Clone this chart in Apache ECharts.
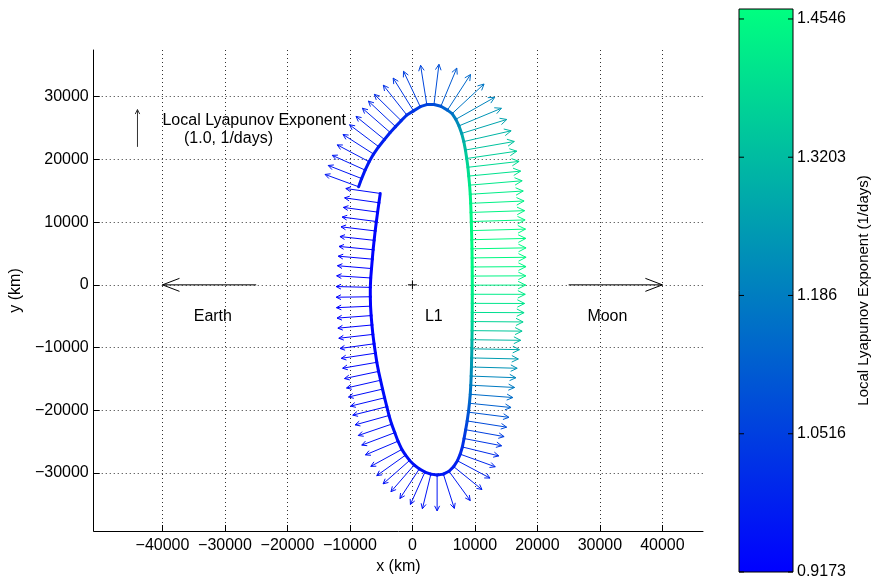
<!DOCTYPE html>
<html><head><meta charset="utf-8">
<script src="https://cdn.jsdelivr.net/npm/echarts@6/dist/echarts.min.js"></script>
<style>html,body{margin:0;padding:0;background:#fff}#c{width:874px;height:581px}</style>
</head><body><div id="c"></div>
<script>
// ---------- data ----------
const xTicks = [-40000,-30000,-20000,-10000,0,10000,20000,30000,40000];
const yTicks = [-30000,-20000,-10000,0,10000,20000,30000];
const cbTicks = [0.9173,1.0516,1.186,1.3203,1.4546];
const cbMin = 0.9173, cbMax = 1.4643;
const xMin = -51000, xMax = 46500, yMin = -39250, yMax = 37450;

// orbit points (km), from the left-side start downwards, around the bottom, up the right side and back over the top
const orbitX = [
 -5150,-5360,-5570,-5770,-5960,-6130,-6290,-6420,-6550,-6670,-6740,-6740,-6700,-6610,-6480,-6330,-6140,-5920,-5700,-5420,
 -5100,-4780,-4450,-4100,-3750,-3330,-2820,-2310,-1700,
 -1100,-450,280,1100,2000,2950,3950,4950,5850,6600,7200,7650,
 7990,8260,8520,8760,8960,9120,9250,9340,9400,9445,9480,
 9510,9530,9545,9560,9568,9572,9575,9575,9570,9562,9550,9530,9500,9462,9420,9377,9325,9250,9150,9010,
 8880,8690,8480,8220,7880,7450,6950,6350,
 5600,4550,3450,2300,1250,170,-890,
 -1800,-2700,-3560,-4480,-5400,-6220,-6930,-7570,-8130,-8610
];
const orbitY = [
 14580,13100,11600,10100,8600,7100,5600,4100,2600,1100,-400,-1900,-3400,-4900,-6400,-7900,-9400,-10900,-12350,-13800,
 -15210,-16620,-18010,-19420,-20830,-22210,-23570,-24930,-26240,
 -27150,-28000,-28720,-29350,-29850,-30180,-30330,-30180,-29720,-28980,-28050,-27000,
 -25850,-24500,-23100,-21700,-20300,-18880,-17450,-16000,-14550,-13100,-11650,
 -10200,-8750,-7300,-5850,-4400,-2950,-1500,-50,1400,2850,4300,5750,7200,8650,10100,11550,13000,14450,15900,17350,
 18750,20150,21500,22850,24150,25350,26400,27300,
 27860,28470,28760,28750,28410,27740,27080,
 26180,25230,24300,23180,22030,20860,19630,18300,16950,15640
];
// local Lyapunov exponent (1/days) at each orbit point
const lyap = [
 0.935,0.932,0.93,0.928,0.926,0.924,0.922,0.92,0.919,0.918,0.9173,0.9173,0.918,0.919,0.92,0.922,0.925,0.928,0.932,0.935,
 0.938,0.94,0.942,0.944,0.946,0.948,0.95,0.95,0.95,
 0.95,0.95,0.95,0.95,0.952,0.955,0.96,0.965,0.972,0.98,0.99,1.0,
 1.01,1.03,1.05,1.075,1.1,1.125,1.15,1.18,1.205,1.23,1.255,
 1.28,1.31,1.345,1.37,1.395,1.41,1.425,1.435,1.442,1.448,1.452,1.4546,1.4546,1.452,1.448,1.443,1.437,1.428,1.418,1.403,
 1.385,1.36,1.335,1.305,1.27,1.235,1.2,1.17,
 1.14,1.11,1.085,1.065,1.05,1.035,1.02,
 1.01,1.0,0.99,0.985,0.98,0.975,0.97,0.967,0.964,0.962
];
const arrowScale = 5950; // km per (1/days)

// direction arrows towards Earth and Moon
const dirFromX = [-25000, 25000];
const dirToX = [-40000, 40000];
const dirY = [0, 0];
// reference (legend) arrow
const legendArrowX = -44000, legendArrowY = 22000, legendArrowValue = 1.0;
// annotation texts
const noteText = ['Earth','L1','Moon','Local Lyapunov Exponent','(1.0, 1/days)'];
const noteX = [-35000, 2000, 28000, -40000, -36550];
const noteY = [-5000, -5000, -5000, 26170, 23250];
const l1Point = [0, 0];

// ---------- helpers ----------
const FONT = '"Liberation Sans", Arial, Helvetica, sans-serif';
function winter(v){
  let t = (v - cbMin)/(cbMax - cbMin); t = Math.max(0, Math.min(1, t));
  return 'rgb(0,' + Math.round(255*t) + ',' + Math.round(255*(1-0.5*t)) + ')';
}
function arrowChildren(p0, p1, headLen, halfW, color, lw){
  const dx = p1[0]-p0[0], dy = p1[1]-p0[1], L = Math.hypot(dx,dy);
  const ux = dx/L, uy = dy/L;
  const bx = p1[0]-ux*headLen, by = p1[1]-uy*headLen;
  const px = -uy*halfW, py = ux*halfW;
  return [
    {type:'line', shape:{x1:p0[0],y1:p0[1],x2:p1[0],y2:p1[1]}, style:{stroke:color,lineWidth:lw}},
    {type:'polyline', shape:{points:[[bx+px,by+py],[p1[0],p1[1]],[bx-px,by-py]]}, style:{stroke:color,lineWidth:lw,fill:null}}
  ];
}
function minus(v){ return String(v).replace('-', '\u2212'); }

const n = orbitX.length;
const orbitData = orbitX.map((x,i)=>[x, orbitY[i], lyap[i]]);

const chart = echarts.init(document.getElementById('c'), null, {renderer:'canvas'});
const axisText = {color:'#000', fontSize:16, fontFamily:FONT};
chart.setOption({
  animation:false,
  backgroundColor:'#fff',
  grid:[
    {left:93, right:171, top:50, bottom:50, containLabel:false},
    {left:739, top:9, width:54, height:563, containLabel:false}
  ],
  xAxis:[
    {type:'value', gridIndex:0, min:xMin, max:xMax, name:'x (km)', nameLocation:'middle', nameGap:26,
     nameTextStyle:axisText,
     axisLine:{show:true, onZero:false, lineStyle:{color:'#000', width:1}},
     axisTick:{show:true, inside:true, length:6, customValues:xTicks, lineStyle:{color:'#000'}},
     axisLabel:{customValues:xTicks, formatter:minus, margin:7, ...axisText},
     splitLine:{show:true, lineStyle:{color:'#333', width:1, type:[1,3]}}},
    {type:'value', gridIndex:1, min:0, max:1, show:false}
  ],
  yAxis:[
    {type:'value', gridIndex:0, min:yMin, max:yMax, name:'y (km)', nameLocation:'middle', nameGap:58, nameRotate:90,
     nameTextStyle:axisText,
     axisLine:{show:true, onZero:false, lineStyle:{color:'#000', width:1}},
     axisTick:{show:true, inside:true, length:6, customValues:yTicks, lineStyle:{color:'#000'}},
     axisLabel:{customValues:yTicks, formatter:minus, margin:5, ...axisText},
     splitLine:{show:true, lineStyle:{color:'#333', width:1, type:[1,3]}}},
    {type:'value', gridIndex:1, min:cbMin, max:cbMax, position:'right', z:10,
     name:'Local Lyapunov Exponent (1/days)', nameLocation:'middle', nameGap:63, nameRotate:90,
     nameTextStyle:{color:'#000', fontSize:15, fontFamily:FONT},
     axisLine:{show:false}, axisTick:{show:false},
     axisLabel:{customValues:cbTicks, formatter:v=>String(v), margin:4, ...axisText},
     splitLine:{show:false}}
  ],
  series:[
    // colorbar fill
    {type:'custom', xAxisIndex:1, yAxisIndex:1, z:1, data:[[0, cbMin]],
     renderItem:function(params, api){
       const a = api.coord([0, cbMin]), b = api.coord([1, cbMax]);
       return {type:'rect', shape:{x:a[0], y:b[1], width:b[0]-a[0], height:a[1]-b[1]},
         style:{fill:new echarts.graphic.LinearGradient(0,1,0,0,[{offset:0,color:winter(cbMin)},{offset:1,color:winter(cbMax)}]),
                stroke:'#000', lineWidth:1}};
     }},
    // colorbar ticks (inside, both edges)
    {type:'custom', xAxisIndex:1, yAxisIndex:1, z:2, data:cbTicks.map(v=>[0, v]),
     renderItem:function(params, api){
       const v = cbTicks[params.dataIndex];
       const a = api.coord([0, v]), b = api.coord([1, v]);
       return {type:'group', children:[
         {type:'line', shape:{x1:a[0],y1:a[1],x2:a[0]+5,y2:a[1]}, style:{stroke:'#000',lineWidth:1}},
         {type:'line', shape:{x1:b[0]-5,y1:b[1],x2:b[0],y2:b[1]}, style:{stroke:'#000',lineWidth:1}}
       ]};
     }},
    // lyapunov arrows
    {type:'custom', xAxisIndex:0, yAxisIndex:0, z:3, data:orbitData, encode:{x:0,y:1},
     renderItem:function(params, api){
       const i = params.dataIndex;
       const a = Math.max(0,i-1), b = Math.min(n-1,i+1);
       let tx = orbitX[b]-orbitX[a], ty = orbitY[b]-orbitY[a];
       const tl = Math.hypot(tx,ty); tx/=tl; ty/=tl;
       const nx = ty, ny = -tx, v = lyap[i];
       const p0 = api.coord([orbitX[i], orbitY[i]]);
       const p1 = api.coord([orbitX[i]+nx*v*arrowScale, orbitY[i]+ny*v*arrowScale]);
       const L = Math.hypot(p1[0]-p0[0], p1[1]-p0[1]);
       const hl = 0.14*L;
       return {type:'group', children:arrowChildren(p0,p1,hl,0.5*hl,winter(v),1)};
     }},
    // orbit line
    {type:'custom', xAxisIndex:0, yAxisIndex:0, z:4, data:orbitData, encode:{x:0,y:1},
     renderItem:function(params, api){
       const i = params.dataIndex;
       if (i >= n-1) return null;
       const p0 = api.coord([orbitX[i], orbitY[i]]), p1 = api.coord([orbitX[i+1], orbitY[i+1]]);
       return {type:'line', shape:{x1:p0[0],y1:p0[1],x2:p1[0],y2:p1[1]},
               style:{stroke:winter((lyap[i]+lyap[i+1])/2), lineWidth:3, lineCap:'round'}};
     }},
    // Earth / Moon direction arrows
    {type:'custom', xAxisIndex:0, yAxisIndex:0, z:3, data:dirFromX.map((x,i)=>[x, dirY[i]]), encode:{x:0,y:1},
     renderItem:function(params, api){
       const i = params.dataIndex;
       const p0 = api.coord([dirFromX[i], dirY[i]]), p1 = api.coord([dirToX[i], dirY[i]]);
       return {type:'group', children:arrowChildren(p0,p1,17,6.5,'#000',1)};
     }},
    // reference arrow
    {type:'custom', xAxisIndex:0, yAxisIndex:0, z:3, data:[[legendArrowX, legendArrowY]], encode:{x:0,y:1},
     renderItem:function(params, api){
       const p0 = api.coord([legendArrowX, legendArrowY]);
       const p1 = api.coord([legendArrowX, legendArrowY + legendArrowValue*arrowScale]);
       const L = Math.hypot(p1[0]-p0[0], p1[1]-p0[1]);
       return {type:'group', children:arrowChildren(p0,p1,0.12*L,0.06*L,'#333',1)};
     }},
    // L1 marker
    {type:'custom', xAxisIndex:0, yAxisIndex:0, z:3, data:[l1Point], encode:{x:0,y:1},
     renderItem:function(params, api){
       const p = api.coord(l1Point);
       return {type:'group', children:[
         {type:'line', shape:{x1:p[0]-4.5,y1:p[1],x2:p[0]+4.5,y2:p[1]}, style:{stroke:'#000',lineWidth:1}},
         {type:'line', shape:{x1:p[0],y1:p[1]-4.5,x2:p[0],y2:p[1]+4.5}, style:{stroke:'#000',lineWidth:1}}
       ]};
     }},
    // texts
    {type:'custom', xAxisIndex:0, yAxisIndex:0, z:5, data:noteX.map((x,i)=>[x, noteY[i]]), encode:{x:0,y:1},
     renderItem:function(params, api){
       const i = params.dataIndex;
       const p = api.coord([noteX[i], noteY[i]]);
       return {type:'text', x:p[0], y:p[1],
               style:{text:noteText[i], fill:'#000', fontSize:16, fontFamily:FONT, align:'left', verticalAlign:'middle'}};
     }}
  ]
});
</script></body></html>
